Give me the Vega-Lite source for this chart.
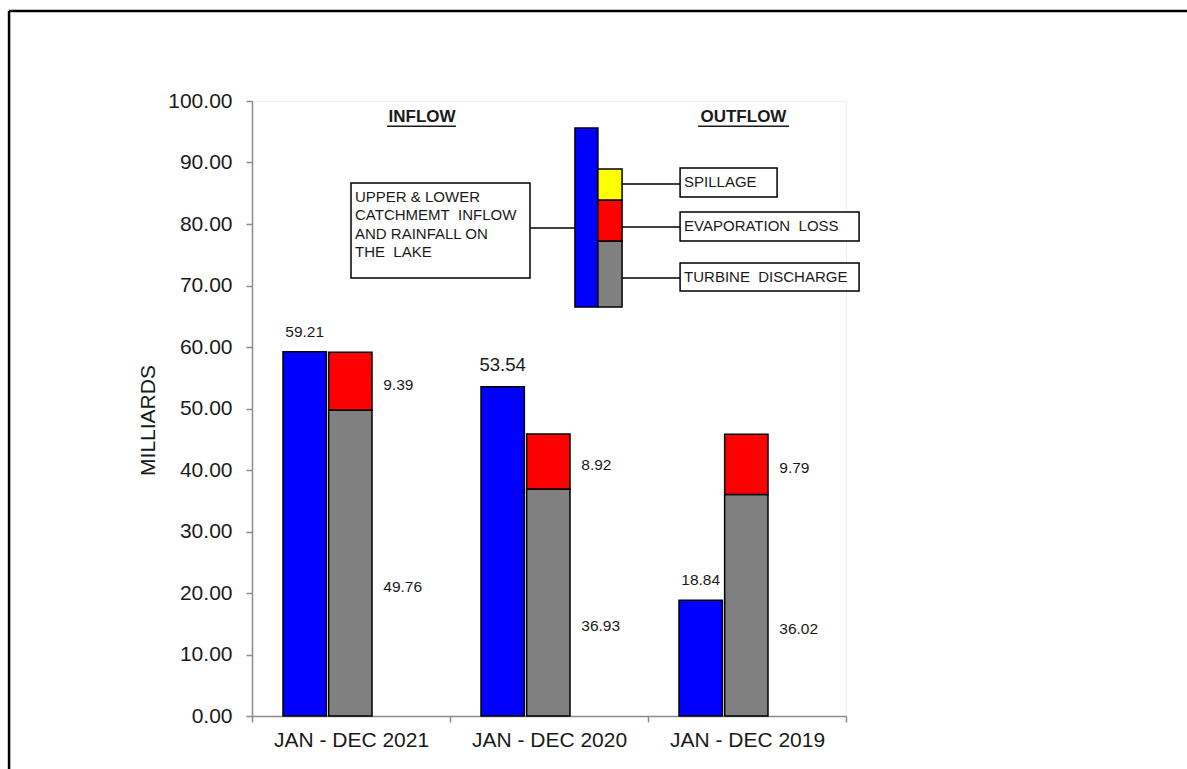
{
  "$schema": "https://vega.github.io/schema/vega-lite/v6.json",
  "width": 594,
  "height": 615,
  "autosize": "none",
  "padding": {"left": 252, "top": 101, "right": 341, "bottom": 53},
  "background": "white",
  "config": {
    "font": "Liberation Sans",
    "view": {"stroke": "#eeeeee"}
  },
  "datasets": {
    "flows": [
      {"period": "JAN - DEC 2021", "flow": "INFLOW", "component": "INFLOW", "value": 59.21},
      {"period": "JAN - DEC 2021", "flow": "OUTFLOW", "component": "TURBINE DISCHARGE", "value": 49.76},
      {"period": "JAN - DEC 2021", "flow": "OUTFLOW", "component": "EVAPORATION LOSS", "value": 9.39},
      {"period": "JAN - DEC 2020", "flow": "INFLOW", "component": "INFLOW", "value": 53.54},
      {"period": "JAN - DEC 2020", "flow": "OUTFLOW", "component": "TURBINE DISCHARGE", "value": 36.93},
      {"period": "JAN - DEC 2020", "flow": "OUTFLOW", "component": "EVAPORATION LOSS", "value": 8.92},
      {"period": "JAN - DEC 2019", "flow": "INFLOW", "component": "INFLOW", "value": 18.84},
      {"period": "JAN - DEC 2019", "flow": "OUTFLOW", "component": "TURBINE DISCHARGE", "value": 36.02},
      {"period": "JAN - DEC 2019", "flow": "OUTFLOW", "component": "EVAPORATION LOSS", "value": 9.79}
    ],
    "keyBars": [
      {"component": "INFLOW", "left": 1.631, "right": 1.747, "low": 66.5, "high": 95.6},
      {"component": "TURBINE DISCHARGE", "left": 1.747, "right": 1.869, "low": 66.5, "high": 77.24},
      {"component": "EVAPORATION LOSS", "left": 1.747, "right": 1.869, "low": 77.24, "high": 83.9},
      {"component": "SPILLAGE", "left": 1.747, "right": 1.869, "low": 83.9, "high": 88.94}
    ],
    "keyBoxes": [
      {"label": "UPPER & LOWER\nCATCHMEMT\u00a0 INFLOW\nAND RAINFALL ON\nTHE\u00a0 LAKE", "left": 0.5, "right": 1.404, "low": 71.22, "high": 86.67, "lineAt": 79.35, "lineFrom": 1.404, "lineTo": 1.631},
      {"label": "SPILLAGE", "left": 2.162, "right": 2.652, "low": 84.39, "high": 89.11, "lineAt": 86.5, "lineFrom": 1.869, "lineTo": 2.162},
      {"label": "EVAPORATION\u00a0 LOSS", "left": 2.162, "right": 3.066, "low": 77.24, "high": 81.95, "lineAt": 79.51, "lineFrom": 1.869, "lineTo": 2.162},
      {"label": "TURBINE\u00a0 DISCHARGE", "left": 2.162, "right": 3.066, "low": 69.11, "high": 73.66, "lineAt": 71.22, "lineFrom": 1.869, "lineTo": 2.162}
    ],
    "headings": [
      {"label": "INFLOW", "center": 0.859, "from": 0.682, "to": 1.03},
      {"label": "OUTFLOW", "center": 2.482, "from": 2.253, "to": 2.712}
    ],
    "frame": [
      {"x0": -1.227, "x1": 5, "y0": 114.63, "y1": 114.63},
      {"x0": -1.227, "x1": -1.227, "y0": -10, "y1": 114.63}
    ]
  },
  "resolve": {"scale": {"x": "independent"}, "axis": {"x": "independent", "y": "independent"}},
  "layer": [
    {
      "data": {"name": "flows"},
      "encoding": {
        "x": {
          "field": "period",
          "type": "nominal",
          "sort": null,
          "scale": {"paddingInner": 0, "paddingOuter": 0},
          "axis": {
            "title": null,
            "labelAngle": 0,
            "tickBand": "extent",
            "labelFontSize": 21,
            "labelColor": "#1a1a1a",
            "labelPadding": 7,
            "tickSize": 6,
            "tickWidth": 1.5,
            "tickColor": "#8c8c8c",
            "domainColor": "#8c8c8c",
            "domainWidth": 1.5
          }
        },
        "xOffset": {
          "field": "flow",
          "type": "nominal",
          "sort": ["INFLOW", "OUTFLOW"],
          "scale": {"range": [31, 120], "paddingInner": 0.05, "paddingOuter": 0}
        }
      },
      "resolve": {"axis": {"y": "independent"}},
      "layer": [
        {
          "mark": {"type": "bar", "stroke": "black", "strokeWidth": 1.5},
          "encoding": {
            "y": {
              "field": "value",
              "type": "quantitative",
              "scale": {"domain": [0, 100], "nice": false},
              "axis": {
                "title": "MILLIARDS",
                "titleFontSize": 21,
                "titleFontWeight": "normal",
                "titleColor": "#1a1a1a",
                "titlePadding": 9,
                "titleY": 319,
                "format": ".2f",
                "values": [0, 10, 20, 30, 40, 50, 60, 70, 80, 90, 100],
                "labelFontSize": 21,
                "labelColor": "#1a1a1a",
                "labelPadding": 14,
                "tickSize": 6,
                "tickWidth": 1.5,
                "tickColor": "#8c8c8c",
                "domainColor": "#8c8c8c",
                "domainWidth": 1.5,
                "grid": false
              }
            },
            "color": {
              "field": "component",
              "type": "nominal",
              "scale": {
                "domain": ["INFLOW", "TURBINE DISCHARGE", "EVAPORATION LOSS", "SPILLAGE"],
                "range": ["#0000ff", "#808080", "#ff0000", "#ffff00"]
              },
              "legend": null
            },
            "order": {"field": "component", "sort": "descending"}
          }
        },
        {
          "transform": [{"filter": "datum.flow === 'INFLOW'"}],
          "mark": {"type": "text", "align": "center", "baseline": "bottom", "dy": -12, "color": "#1a1a1a"},
          "encoding": {
            "y": {"field": "value", "type": "quantitative", "scale": {"domain": [0, 100]}, "axis": null},
            "text": {"field": "value", "type": "quantitative", "format": ".2f"},
            "size": {"condition": {"test": "datum.period === 'JAN - DEC 2020'", "value": 18.5}, "value": 15.5}
          }
        },
        {
          "transform": [{"filter": "datum.flow === 'OUTFLOW'"}],
          "mark": {"type": "text", "align": "left", "baseline": "middle", "dx": 33, "dy": 4, "fontSize": 15.5, "color": "#1a1a1a"},
          "encoding": {
            "y": {"field": "value", "type": "quantitative", "stack": "zero", "bandPosition": 0.5, "scale": {"domain": [0, 100]}, "axis": null},
            "detail": {"field": "component"},
            "order": {"field": "component", "sort": "descending"},
            "text": {"condition": {"test": "datum.component === 'EVAPORATION LOSS'", "field": "value", "type": "quantitative", "format": ".2f"}, "value": ""}
          }
        },
        {
          "transform": [{"filter": "datum.flow === 'OUTFLOW'"}],
          "mark": {"type": "text", "align": "left", "baseline": "middle", "dx": 33, "dy": 24, "fontSize": 15.5, "color": "#1a1a1a"},
          "encoding": {
            "y": {"field": "value", "type": "quantitative", "stack": "zero", "bandPosition": 0.5, "scale": {"domain": [0, 100]}, "axis": null},
            "detail": {"field": "component"},
            "order": {"field": "component", "sort": "descending"},
            "text": {"condition": {"test": "datum.component === 'TURBINE DISCHARGE'", "field": "value", "type": "quantitative", "format": ".2f"}, "value": ""}
          }
        }
      ]
    },
    {
      "resolve": {"axis": {"y": "independent"}},
      "layer": [
        {
          "data": {"name": "frame"},
          "mark": {"type": "rule", "color": "black", "strokeWidth": 2.5},
          "encoding": {
            "x": {"field": "x0", "type": "quantitative", "scale": {"domain": [0, 3], "nice": false, "zero": false}, "axis": null},
            "x2": {"field": "x1"},
            "y": {"field": "y0", "type": "quantitative", "scale": {"domain": [0, 100]}, "axis": null},
            "y2": {"field": "y1"}
          }
        },
        {
          "data": {"name": "keyBoxes"},
          "mark": {"type": "rule", "color": "black", "strokeWidth": 1.5},
          "encoding": {
            "x": {"field": "lineFrom", "type": "quantitative", "scale": {"domain": [0, 3], "nice": false, "zero": false}, "axis": null},
            "x2": {"field": "lineTo"},
            "y": {"field": "lineAt", "type": "quantitative", "scale": {"domain": [0, 100]}, "axis": null}
          }
        },
        {
          "data": {"name": "keyBoxes"},
          "mark": {"type": "rect", "fill": "white", "stroke": "black", "strokeWidth": 1.5},
          "encoding": {
            "x": {"field": "left", "type": "quantitative", "scale": {"domain": [0, 3], "nice": false, "zero": false}, "axis": null},
            "x2": {"field": "right"},
            "y": {"field": "low", "type": "quantitative", "scale": {"domain": [0, 100]}, "axis": null},
            "y2": {"field": "high"}
          }
        },
        {
          "data": {"name": "keyBoxes"},
          "mark": {"type": "text", "align": "left", "baseline": "top", "dx": 4, "dy": 7, "fontSize": 15, "lineHeight": 18.5, "lineBreak": "\n", "color": "#1a1a1a"},
          "encoding": {
            "x": {"field": "left", "type": "quantitative", "scale": {"domain": [0, 3], "nice": false, "zero": false}, "axis": null},
            "y": {"field": "high", "type": "quantitative", "scale": {"domain": [0, 100]}, "axis": null},
            "text": {"field": "label"}
          }
        },
        {
          "data": {"name": "keyBars"},
          "mark": {"type": "rect", "stroke": "black", "strokeWidth": 1.5},
          "encoding": {
            "x": {"field": "left", "type": "quantitative", "scale": {"domain": [0, 3], "nice": false, "zero": false}, "axis": null},
            "x2": {"field": "right"},
            "y": {"field": "low", "type": "quantitative", "scale": {"domain": [0, 100]}, "axis": null},
            "y2": {"field": "high"},
            "color": {
              "field": "component",
              "type": "nominal",
              "scale": {
                "domain": ["INFLOW", "TURBINE DISCHARGE", "EVAPORATION LOSS", "SPILLAGE"],
                "range": ["#0000ff", "#808080", "#ff0000", "#ffff00"]
              },
              "legend": null
            }
          }
        },
        {
          "data": {"name": "headings"},
          "mark": {"type": "text", "align": "center", "baseline": "middle", "fontSize": 17, "fontWeight": "bold", "color": "#1a1a1a"},
          "encoding": {
            "x": {"field": "center", "type": "quantitative", "scale": {"domain": [0, 3], "nice": false, "zero": false}, "axis": null},
            "y": {"datum": 97.4, "type": "quantitative", "scale": {"domain": [0, 100]}, "axis": null},
            "text": {"field": "label"}
          }
        },
        {
          "data": {"name": "headings"},
          "mark": {"type": "rule", "color": "#1a1a1a", "strokeWidth": 1.5},
          "encoding": {
            "x": {"field": "from", "type": "quantitative", "scale": {"domain": [0, 3], "nice": false, "zero": false}, "axis": null},
            "x2": {"field": "to"},
            "y": {"datum": 95.9, "type": "quantitative", "scale": {"domain": [0, 100]}, "axis": null}
          }
        }
      ]
    }
  ]
}
